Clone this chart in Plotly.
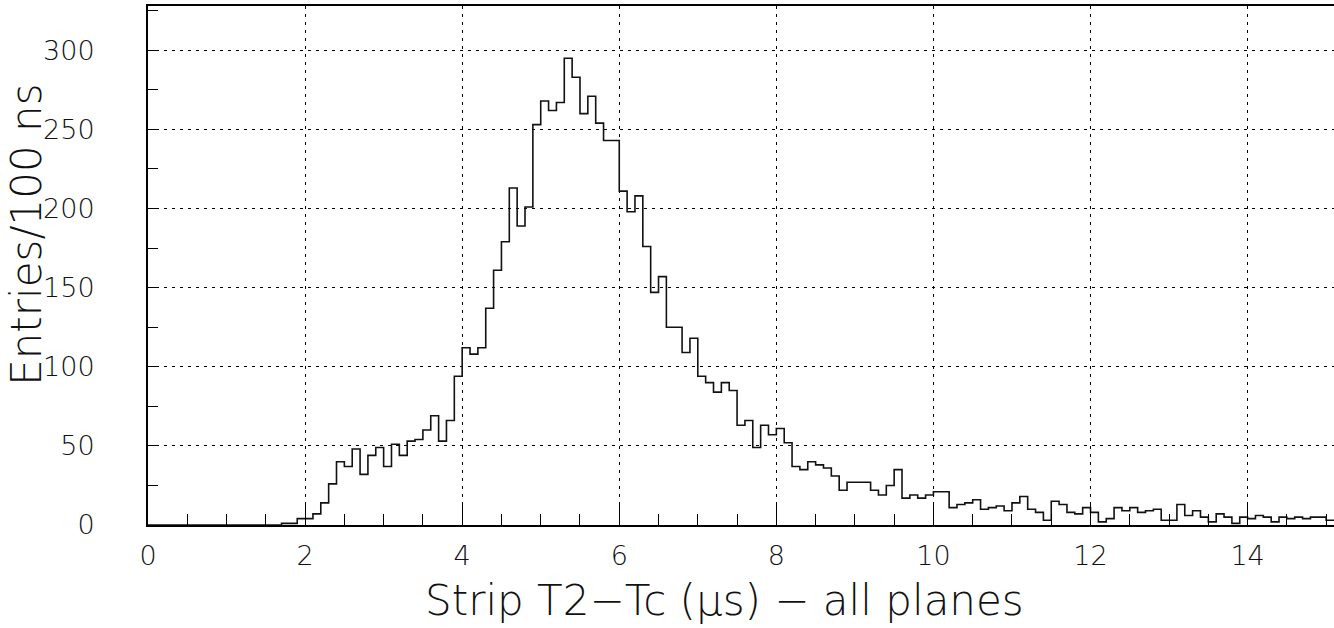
import numpy as np
import plotly.graph_objects as go

# histogram contents, 100 ns bins starting at 0 us
BIN_WIDTH = 0.1
counts = [
    0, 0, 0, 0, 0, 0, 0, 0, 0, 0,
    0, 0, 0, 0, 0, 0, 0, 1, 1, 4,
    4, 7, 14, 26, 40, 37, 48, 32, 44, 49,
    37, 51, 44, 53, 54, 60, 69, 53, 66, 94,
    112, 108, 112, 137, 161, 179, 213, 189, 201, 253,
    268, 262, 267, 295, 283, 260, 271, 254, 243, 243,
    211, 198, 208, 176, 147, 157, 125, 125, 109, 118,
    94, 90, 84, 90, 85, 63, 66, 49, 63, 57,
    61, 52, 37, 35, 40, 38, 36, 31, 22, 27,
    27, 27, 22, 19, 25, 35, 17, 19, 17, 19,
    21, 21, 11, 13, 14, 16, 10, 11, 12, 9,
    14, 18, 10, 8, 3, 15, 13, 8, 7, 11,
    8, 2, 4, 11, 9, 11, 8, 9, 10, 3,
    3, 13, 6, 9, 5, 2, 7, 5, 1, 5,
    4, 6, 5, 2, 5, 4, 5, 4, 5, 5,
    3,
]

x_ticks = [0, 2, 4, 6, 8, 10, 12, 14]
y_ticks = [0, 50, 100, 150, 200, 250, 300]

X_RANGE = [0, 15.1]
Y_RANGE = [0, 328]

_FONT = "DejaVu Sans, Inter, sans-serif"
_INK = "#000000"
_TXT = "#111111"

edges = np.arange(len(counts) + 1) * BIN_WIDTH
steps = counts + [counts[-1]]

fig = go.Figure(go.Scatter(
    x=edges,
    y=steps,
    mode="lines",
    line=dict(color="#111111", width=1.6, shape="hv"),
    hoverinfo="skip",
))

fig.update_layout(
    width=1334,
    height=628,
    paper_bgcolor="white",
    plot_bgcolor="white",
    showlegend=False,
    margin=dict(l=148, r=0, t=6, b=103),
    font=dict(family=_FONT, color=_INK),
)

fig.update_xaxes(
    range=X_RANGE,
    tickvals=x_ticks,
    ticks="inside",
    ticklen=22,
    tickwidth=1.2,
    tickcolor=_INK,
    tickfont=dict(size=27, family=_FONT, color=_TXT, weight=200),
    ticklabelstandoff=6,
    showline=True,
    linecolor=_INK,
    linewidth=2,
    mirror=True,
    showgrid=True,
    gridcolor=_INK,
    gridwidth=1,
    griddash="3px,5px",
    zeroline=False,
    minor=dict(dtick=0.5, ticks="inside", ticklen=11, tickwidth=1.2, tickcolor=_INK, showgrid=False),
)

fig.update_yaxes(
    range=Y_RANGE,
    tickvals=y_ticks,
    ticks="inside",
    ticklen=10,
    tickwidth=1.2,
    tickcolor=_INK,
    tickfont=dict(size=27, family=_FONT, color=_TXT, weight=200),
    ticklabelstandoff=46,
    showline=True,
    linecolor=_INK,
    linewidth=2,
    showgrid=True,
    gridcolor=_INK,
    gridwidth=1,
    griddash="3px,5px",
    zeroline=False,
    minor=dict(dtick=25, ticks="inside", ticklen=10, tickwidth=1.2, tickcolor=_INK, showgrid=False),
)

# axis titles as annotations so they sit where the original puts them
fig.add_annotation(
    text="Strip T2\u2212Tc (\u03bcs) \u2212 all planes",
    xref="paper", yref="paper", x=0.486, y=0,
    xanchor="center", yanchor="top", yshift=-49,
    showarrow=False,
    font=dict(size=42, family=_FONT, color=_TXT, weight=200),
)
fig.add_annotation(
    text="Entries/100 ns",
    xref="paper", yref="paper", x=0, y=0.56,
    xanchor="right", yanchor="middle", xshift=-95,
    textangle=-90,
    showarrow=False,
    font=dict(size=42, family=_FONT, color=_TXT, weight=200),
)

# the page body has a default 8px margin; drop it so the figure fills the window
fig.write_html(
    "out.html",
    config={"displayModeBar": False},
    post_script="document.body.style.margin='0';",
)
